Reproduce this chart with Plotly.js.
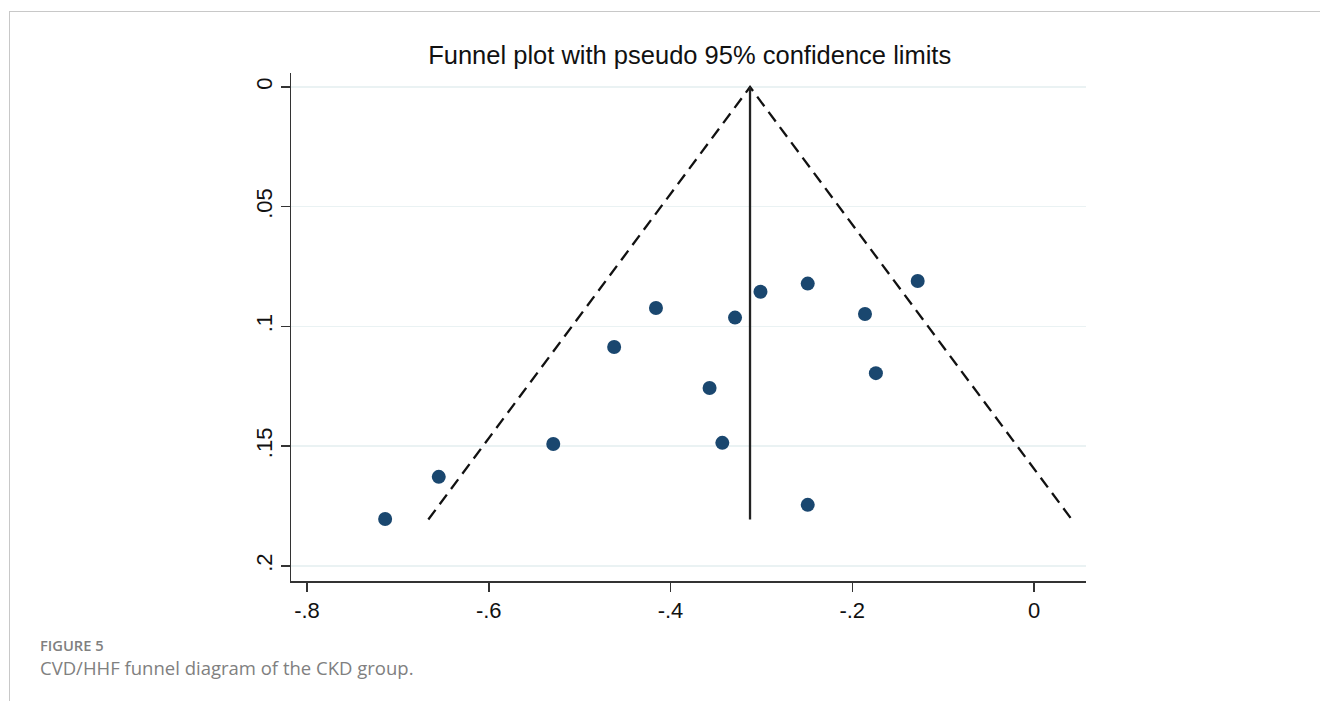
<!DOCTYPE html>
<html>
<head>
<meta charset="utf-8">
<script src="https://cdn.plot.ly/plotly-3.0.1.min.js"></script>
<style>
  html, body { margin: 0; padding: 0; background: #ffffff; width: 1320px; height: 701px; overflow: hidden; }
  #frame { position: absolute; left: 9px; top: 11px; width: 1311px; height: 690px;
           border-left: 1px solid #c8c8c8; border-top: 1px solid #c8c8c8; }
  #chart { position: absolute; left: 0; top: 0; width: 1320px; height: 701px; }
  #cap1 { position: absolute; left: 40px; top: 635px; font-family: "Open Sans", sans-serif;
          font-size: 14.7px; font-weight: 600; color: #808080; }
  #cap2 { position: absolute; left: 40px; top: 655px; font-family: "Open Sans", sans-serif;
          font-size: 18.5px; color: #808080; }
</style>
</head>
<body>
<div id="frame"></div>
<div id="chart"></div>
<div id="cap1">FIGURE 5</div>
<div id="cap2">CVD/HHF funnel diagram of the CKD group.</div>
<script>
// Study effect sizes (x) and standard errors (y)
const effectSizes = [-0.714, -0.655, -0.529, -0.462, -0.416, -0.329, -0.357, -0.343, -0.301, -0.249, -0.186, -0.174, -0.128, -0.249];
const standardErrors = [0.1804, 0.1628, 0.1491, 0.1086, 0.0923, 0.0963, 0.1257, 0.1486, 0.0855, 0.0821, 0.0948, 0.1195, 0.0810, 0.1745];
// Pooled estimate and funnel extent
const pooledEstimate = -0.3125;
const seRange = [0, 0.1806];
const zCrit = 1.96;
// Tick labels
const xTickVals = [-0.8, -0.6, -0.4, -0.2, 0];
const xTickText = ["-.8", "-.6", "-.4", "-.2", "0"];
const yTickVals = [0, 0.05, 0.1, 0.15, 0.2];
const yTickText = ["0", ".05", ".1", ".15", ".2"];

const lowerX = seRange.map(s => pooledEstimate - zCrit * s);
const upperX = seRange.map(s => pooledEstimate + zCrit * s);

const traces = [
  { x: [lowerX[1], lowerX[0], upperX[1]], y: [seRange[1], seRange[0], seRange[1]],
    mode: 'lines', line: { color: '#111111', width: 2.3, dash: '12px,7px' }, hoverinfo: 'skip' },
  { x: [pooledEstimate, pooledEstimate], y: seRange,
    mode: 'lines', line: { color: '#222222', width: 2.3 }, hoverinfo: 'skip' },
  { x: effectSizes, y: standardErrors, mode: 'markers',
    marker: { color: '#1a476f', size: 14, line: { width: 0 } } }
];

const axisFont = { family: '"Liberation Sans", Arial, sans-serif', size: 22, color: '#111111' };

const layout = {
  width: 1320, height: 701,
  margin: { l: 291, r: 234, t: 73, b: 120, pad: 0 },
  paper_bgcolor: 'rgba(0,0,0,0)',
  plot_bgcolor: 'rgba(0,0,0,0)',
  showlegend: false,
  title: { text: 'Funnel plot with pseudo 95% confidence limits',
           font: { family: '"Liberation Sans", Arial, sans-serif', size: 25.5, color: '#111111' },
           x: 0.5225, xanchor: 'center', y: 0.921, yanchor: 'middle' },
  xaxis: {
    range: [-0.8176, 0.0572],
    tickvals: xTickVals, ticktext: xTickText,
    ticks: 'outside', ticklen: 9, tickwidth: 1.5, tickcolor: '#333333',
    showline: true, linecolor: '#333333', linewidth: 1.5,
    showgrid: false, zeroline: false, tickfont: axisFont
  },
  yaxis: {
    range: [0.2063, -0.00585],
    tickvals: yTickVals, ticktext: yTickText,
    ticks: 'outside', ticklen: 9, tickwidth: 1.5, tickcolor: '#333333',
    showline: true, linecolor: '#333333', linewidth: 1.5,
    showgrid: true, gridcolor: 'rgb(234,242,243)', gridwidth: 1.5,
    zeroline: false, tickangle: -90, tickfont: axisFont
  }
};

Plotly.newPlot('chart', traces, layout, { displayModeBar: false, staticPlot: true });
</script>
</body>
</html>
